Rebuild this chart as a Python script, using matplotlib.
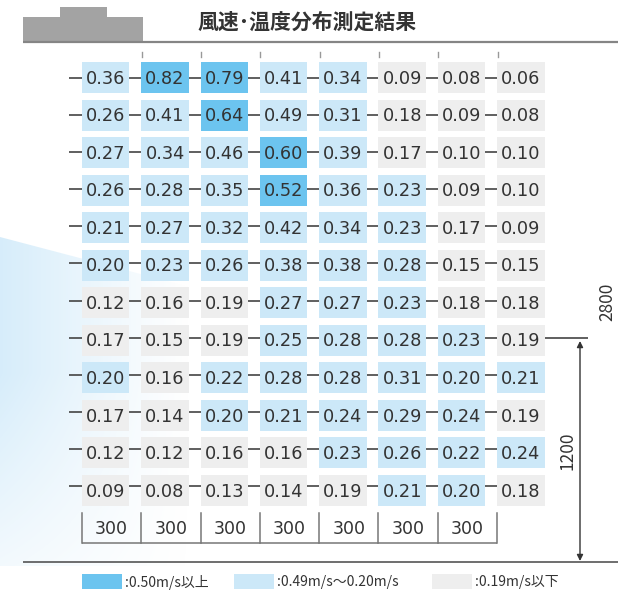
import numpy as np
import matplotlib
matplotlib.use('Agg')
import matplotlib.pyplot as plt
from matplotlib.patches import Rectangle, Polygon

plt.rcParams['font.family'] = ['Noto Sans CJK JP', 'DejaVu Sans']

# measured wind speed (m/s), top row first, 8 points per row
row01 = [0.36, 0.82, 0.79, 0.41, 0.34, 0.09, 0.08, 0.06]
row02 = [0.26, 0.41, 0.64, 0.49, 0.31, 0.18, 0.09, 0.08]
row03 = [0.27, 0.34, 0.46, 0.60, 0.39, 0.17, 0.10, 0.10]
row04 = [0.26, 0.28, 0.35, 0.52, 0.36, 0.23, 0.09, 0.10]
row05 = [0.21, 0.27, 0.32, 0.42, 0.34, 0.23, 0.17, 0.09]
row06 = [0.20, 0.23, 0.26, 0.38, 0.38, 0.28, 0.15, 0.15]
row07 = [0.12, 0.16, 0.19, 0.27, 0.27, 0.23, 0.18, 0.18]
row08 = [0.17, 0.15, 0.19, 0.25, 0.28, 0.28, 0.23, 0.19]
row09 = [0.20, 0.16, 0.22, 0.28, 0.28, 0.31, 0.20, 0.21]
row10 = [0.17, 0.14, 0.20, 0.21, 0.24, 0.29, 0.24, 0.19]
row11 = [0.12, 0.12, 0.16, 0.16, 0.23, 0.26, 0.22, 0.24]
row12 = [0.09, 0.08, 0.13, 0.14, 0.19, 0.21, 0.20, 0.18]

span_labels = ["300", "300", "300", "300", "300", "300", "300"]
height_total = "2800"
height_low = "1200"
title = "風速･温度分布測定結果"
legend_labels = [":0.50m/s以上", ":0.49m/s〜0.20m/s", ":0.19m/s以下"]

speed = np.array([row01, row02, row03, row04, row05, row06,
				  row07, row08, row09, row10, row11, row12])
n_rows, n_cols = speed.shape

col_high = "#6cc4ef"
col_mid = "#cce8f8"
col_low = "#eeeeee"
txt = "#333333"
num_font = ['DejaVu Sans']

def cell_color(v):
	if v >= 0.50:
		return col_high
	if v >= 0.20:
		return col_mid
	return col_low

fig = plt.figure(figsize=(6.18, 5.95), dpi=100)

# background layer in pixel units for the decorations
bg = fig.add_axes([0, 0, 1, 1])

# faint blue air stream at the left
gh, gw = 330, 190
gx = np.linspace(0, 1, gw)
gy = np.linspace(0, 1, gh)
alpha = (1 - gx[None, :]) ** 1.1 * np.clip(1.5 - gy[:, None] * 1.2, 0, 1)
img = np.zeros((gh, gw, 4))
img[..., 0] = 0.80
img[..., 1] = 0.91
img[..., 2] = 0.98
img[..., 3] = np.clip(alpha, 0, 1) * 0.8
im = bg.imshow(img, extent=(0, 190, 566, 236), origin='upper', aspect='auto', zorder=0)
clip = Polygon([(0, 237), (190, 287), (190, 566), (0, 566)], transform=bg.transData)
im.set_clip_path(clip)

bg.set_xlim(0, 618)
bg.set_ylim(595, 0)
bg.axis('off')

# header block + title
bg.add_patch(Rectangle((23, 17), 120, 25, color="#a3a3a3", lw=0))
bg.add_patch(Rectangle((60, 7), 47, 11, color="#a3a3a3", lw=0))
bg.text(197, 22, title, fontsize=15, color=txt, ha='left', va='center', fontweight='bold')
bg.plot([23, 618], [42, 42], color="#858585", lw=1.6, solid_capstyle='butt')
bg.plot([23, 618], [562, 562], color="#555555", lw=1.2, solid_capstyle='butt')

# height dimensions
bg.annotate('', xy=(619, 44), xytext=(619, 560),
			arrowprops=dict(arrowstyle='<|-|>', color='#333333', lw=1, mutation_scale=9,
							shrinkA=0, shrinkB=0))
bg.annotate('', xy=(580, 341), xytext=(580, 561),
			arrowprops=dict(arrowstyle='<|-|>', color='#333333', lw=1, mutation_scale=9,
							shrinkA=0, shrinkB=0))
bg.text(607, 302, height_total, rotation=90, fontsize=12.5, color=txt, ha='center', va='center')
bg.text(567, 451, height_low, rotation=90, fontsize=12.5, color=txt, ha='center', va='center')

# legend
swatch_x = [82, 234, 432]
for c, x0, lab in zip([col_high, col_mid, col_low], swatch_x, legend_labels):
	bg.add_patch(Rectangle((x0, 574), 40, 15, color=c, lw=0))
	bg.text(x0 + 43, 582, lab, fontsize=10, color=txt, ha='left', va='center')

# grid of measuring points, one unit per point
ax = fig.add_axes([0.12306, 0.14403, 0.76764, 0.75731])
ax.set_xlim(-0.5, n_cols - 0.5)
ax.set_ylim(n_rows - 0.5, -0.5)
ax.patch.set_alpha(0)
ax.axis('off')

for i in range(n_rows):
	# guide line through the row (sits a touch higher further down)
	ly = 0.013 + 0.988 * i
	x_end = n_cols - 0.7
	if i == 7:
		x_end = n_cols + 0.13
	ax.plot([-0.62, x_end], [ly, ly], color="#444444", lw=1.2, zorder=1, clip_on=False,
			solid_capstyle='butt')
	for j in range(n_cols):
		v = speed[i, j]
		ax.add_patch(Rectangle((j - 0.4, i - 0.413), 0.8, 0.826, color=cell_color(v), lw=0, zorder=2))
		ax.text(j, i + 0.03, "{0:.2f}".format(v), fontsize=12.8, color=txt, family=num_font,
				ha='center', va='center', zorder=3)

# small ticks above the first row
for j in range(1, n_cols):
	ax.plot([j - 0.39, j - 0.39], [-0.68, -0.545], color="#999999", lw=1, clip_on=False)

# 300 spacing brackets under the grid
for j, lab in enumerate(span_labels):
	ax.plot([j - 0.4, j - 0.4], [11.6, 12.4], color="#777777", lw=1.1, clip_on=False)
	ax.text(j + 0.1, 12.02, lab, fontsize=12.5, color=txt, family=num_font,
			ha='center', va='center', clip_on=False)
ax.plot([len(span_labels) - 0.4] * 2, [11.6, 12.4], color="#777777", lw=1.1, clip_on=False)
ax.plot([-0.4, len(span_labels) - 0.4], [12.4, 12.4], color="#777777", lw=1.1, clip_on=False,
		solid_capstyle='butt')

plt.savefig("out.png", dpi=100)
